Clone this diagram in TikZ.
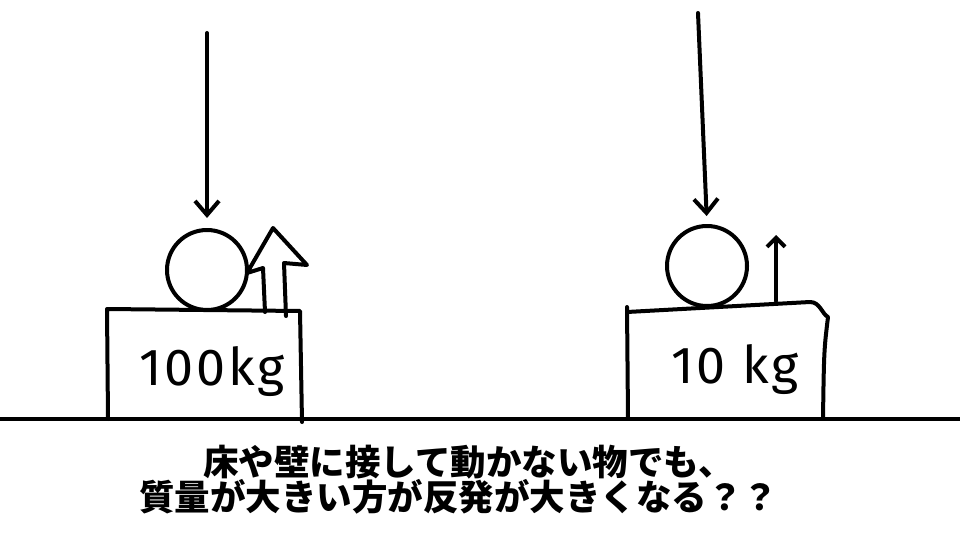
\documentclass[tikz,border=0pt]{standalone}
\usepackage{fontspec}
\setsansfont{Fira Sans}
\newfontfamily\jpfont{Noto Sans CJK JP}
\usetikzlibrary{arrows.meta,positioning}

\tikzset{
  pen/.style={line width=4pt, line cap=round, line join=round},
  force/.style={pen, -{Straight Barb[length=14pt,width=24pt]}},
  smallforce/.style={pen, -{Straight Barb[length=9pt,width=18pt]}},
  ball/.style={circle, draw, pen, minimum size=80pt, inner sep=0pt},
  mass/.style={font=\sffamily\fontsize{52}{52}\selectfont\addfontfeature{LetterSpace=5}},
  caption/.style={font=\jpfont\bfseries\fontsize{35.5}{38}\selectfont, anchor=west, inner sep=0pt}
}

\begin{document}
\begin{tikzpicture}[x=1pt,y=-1pt]
  \useasboundingbox (0,0) rectangle (960,540);

  % floor
  \draw[pen] (0,419) -- (960,419);

  % heavy block (left)
  \draw[pen] (108,419) -- (107,309) -- (300,311) -- (302,422);
  \node[ball] (ballL) at (207,270) {};
  \coordinate (dropL) at (207,33);
  \draw[force, shorten >=10pt] (dropL) -- (ballL.north);
  \draw[pen] (265,312) -- (263,268) -- (247,273) -- (273,228)
             -- (307,265) -- (284,263) -- (286,316);
  \node[mass] (massL) at (212,372) {100kg};

  % light block (right)
  \draw[pen] (627,307) -- (628,418);
  \draw[pen] (627,312) -- (810,302) .. controls (820,302) and (822,314) .. (828,317)
             .. controls (824,350) .. (823,418);
  \node[ball] (ballR) at (707,266) {};
  \coordinate (dropR) at (698,13);
  \draw[force, shorten >=8pt] (dropR) -- (ballR.north);
  \coordinate (pushR) at (776,301);
  \coordinate (tipR) at (776,235);
  \draw[smallforce] (pushR) -- (tipR);
  \node[mass] (massR) at (735,370) {10 kg};

  % caption
  \node[caption] (line1) at (203,462) {床や壁に接して動かない物でも、};
  \node[caption] (line2) at (139,497) {質量が大きい方が反発が大きくなる？？};
\end{tikzpicture}
\end{document}
